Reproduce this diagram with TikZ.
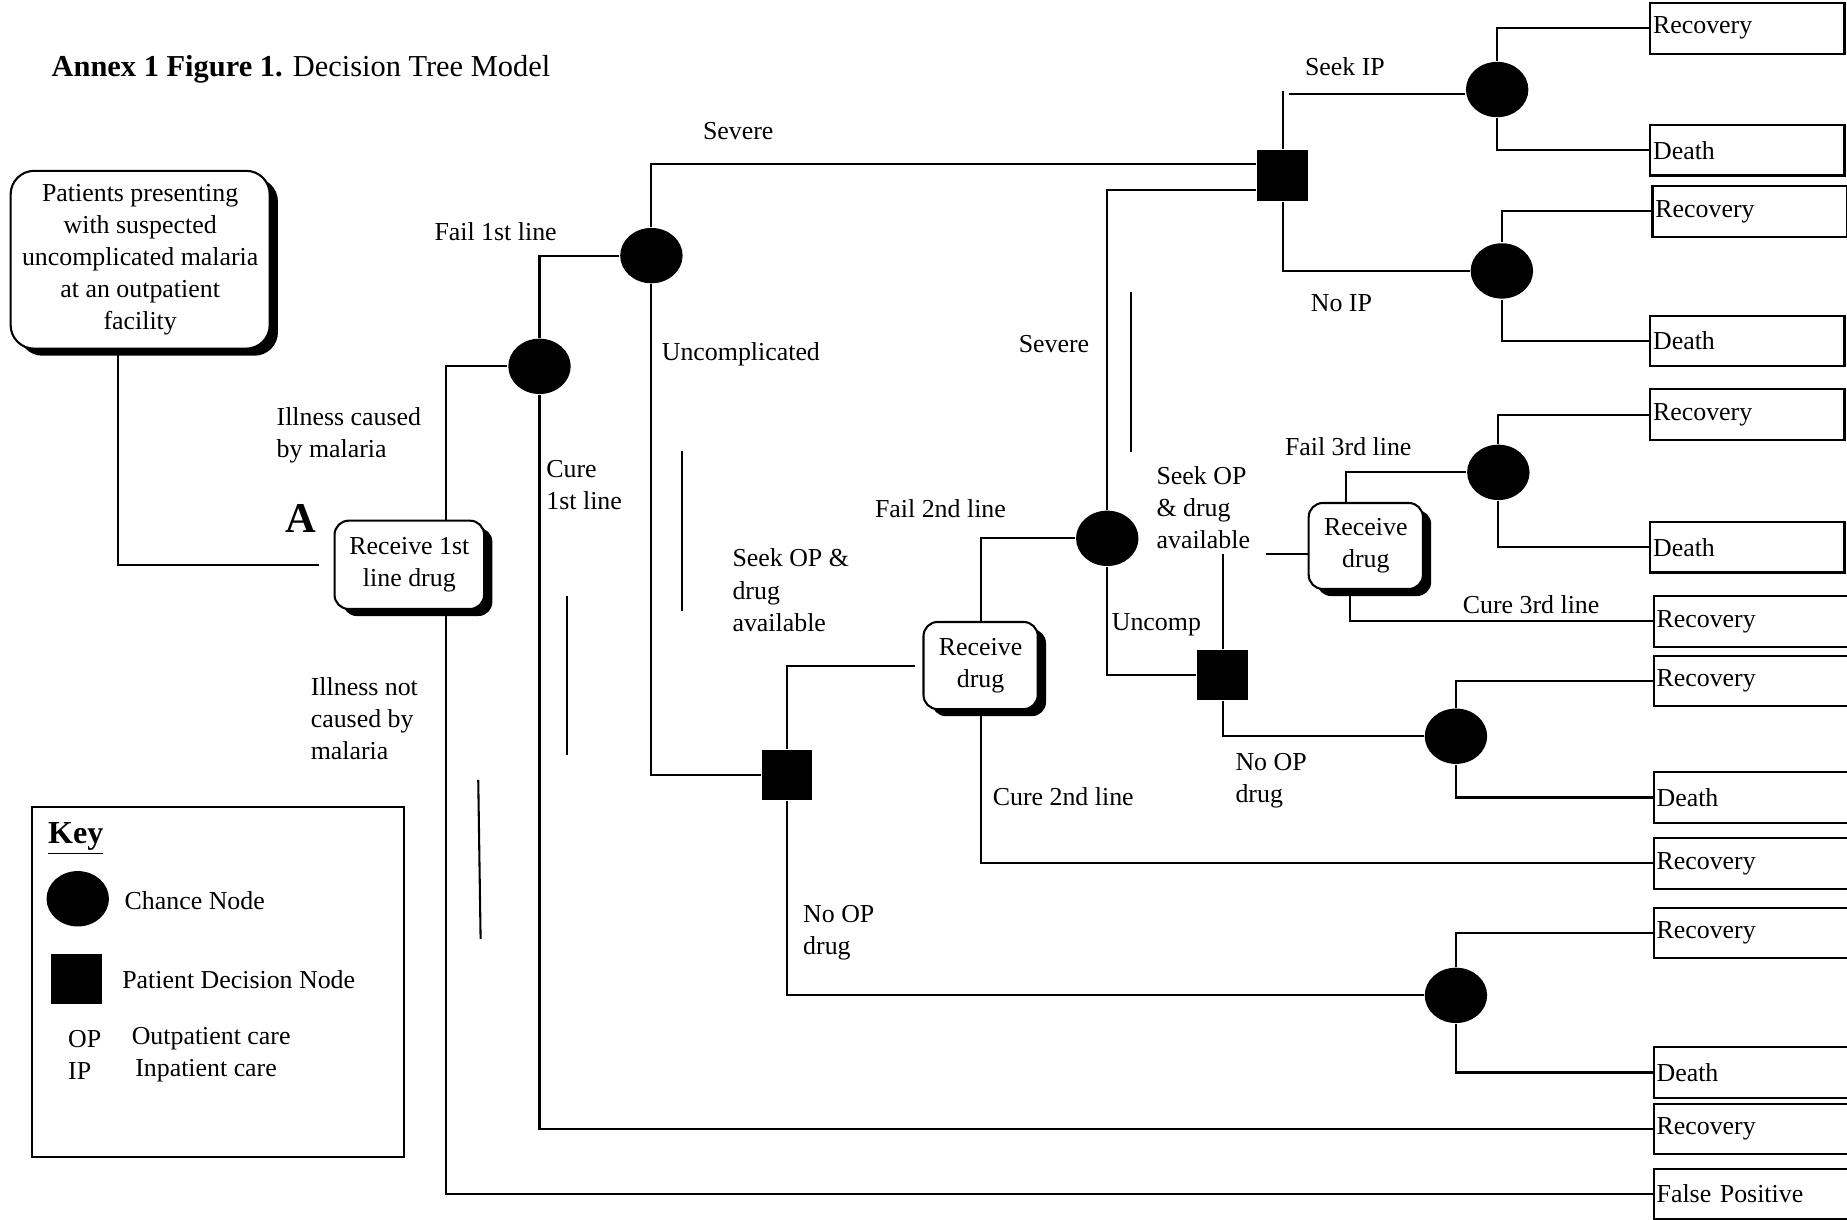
\documentclass[tikz,border=0pt]{standalone}
\usepackage{fontspec}
\setmainfont{Liberation Serif}
\usetikzlibrary{shapes.geometric}
\usetikzlibrary{shadows}

\tikzset{
  chance/.style={ellipse, fill=black, minimum width=1.06cm, minimum height=0.94cm, inner sep=0},
  choice/.style={rectangle, fill=black, minimum width=0.86cm, minimum height=0.86cm, inner sep=0},
  action/.style={draw, fill=white, rounded corners=0.24cm, align=center, inner sep=0,
    drop shadow={shadow xshift=0.14cm, shadow yshift=-0.12cm, fill=black, opacity=1}},
  outcome/.style={draw, anchor=west, text width=3.2cm, align=left, inner xsep=0.05cm, minimum height=0.86cm},
  lbl/.style={anchor=west, align=left, inner sep=0}
}

\begin{document}
\begin{tikzpicture}[x=0.02cm, y=-0.02cm, line width=1pt, font=\fontsize{12.5}{15.5}\selectfont]
\useasboundingbox (0,0) rectangle (1568,1035);

% title
\node[lbl, font=\fontsize{14.7}{17}\selectfont] (title) at (43,59) {\textbf{Annex 1 Figure 1.} Decision Tree Model};

% start and drug boxes
\node[action, rounded corners=0.4cm, minimum width=4.4cm, minimum height=3.02cm] (start) at (119,220.5)
  {Patients presenting\\with suspected\\uncomplicated malaria\\at an outpatient\\facility};
\node[action, minimum width=2.54cm, minimum height=1.5cm] (r1) at (347.5,479.5) {Receive 1st\\line drug};
\node[action, minimum width=1.94cm, minimum height=1.48cm] (r2) at (832.5,565) {Receive\\drug};
\node[action, minimum width=1.94cm, minimum height=1.46cm] (r3) at (1159.5,463.5) {Receive\\drug};
\node[font=\fontsize{20.5}{24}\selectfont\bfseries] (mark) at (255,440) {A};

% chance nodes
\node[chance] (c1) at (458,311) {};
\node[chance] (c2) at (553,217) {};
\node[chance] (c3) at (940,457) {};
\node[chance] (c4) at (1272,401) {};
\node[chance] (c5) at (1236,625) {};
\node[chance] (c6) at (1236,845) {};
\node[chance] (c7) at (1271,76) {};
\node[chance] (c8) at (1275,230) {};

% decision nodes
\node[choice] (d1) at (1089,149) {};
\node[choice] (d2) at (668,658) {};
\node[choice] (d3) at (1038,573) {};

% outcomes
\node[outcome] (o1) at (1400,24) {Recovery};
\node[outcome] (o2) at (1400,127.5) {Death};
\node[outcome] (o3) at (1402,179.5) {Recovery};
\node[outcome] (o4) at (1400,289.5) {Death};
\node[outcome] (o5) at (1400,352) {Recovery};
\node[outcome] (o6) at (1400,464.5) {Death};
\node[outcome] (o7) at (1403,527.5) {Recovery};
\node[outcome] (o8) at (1403,578) {Recovery};
\node[outcome] (o9) at (1403,677) {Death};
\node[outcome] (o10) at (1403,733) {Recovery};
\node[outcome] (o11) at (1403,792) {Recovery};
\node[outcome] (o12) at (1403,910.5) {Death};
\node[outcome] (o13) at (1403,958.5) {Recovery};
\node[outcome] (o14) at (1403,1013.5) {False Positive};

% branches
\draw[shorten >=0.24cm] ([xshift=-0.38cm]start.south) |- (r1.west);
\draw ([xshift=0.63cm]r1.north) |- (c1.west);
\draw ([xshift=0.63cm]r1.south) |- (o14.west);
\draw (c1.north) |- (c2.west);
\draw (c1.south) |- (o13.west);
\draw (c2.north) |- ([yshift=0.2cm]d1.west);
\draw (c2.south) |- (d2.west);
\draw[shorten >=0.12cm] (d2.north) |- (r2.west);
\draw (d2.south) |- (c6.west);
\draw (c6.north) |- (o11.west);
\draw (c6.south) |- (o12.west);
\draw (r2.north) |- (c3.west);
\draw (r2.south) |- (o10.west);
\draw (c3.north) |- ([yshift=-0.24cm]d1.west);
\draw (c3.south) |- (d3.west);
\coordinate (opgap) at (1038,470);
\coordinate (opjoin) at (1075,470);
\draw (d3.north) -- (opgap);
\draw (opjoin) -- (opjoin -| r3.west);
\draw (d3.south) |- (c5.west);
\draw (c5.north) |- (o8.west);
\draw (c5.south) |- (o9.west);
\draw ([xshift=-0.33cm]r3.north) |- (c4.west);
\draw ([xshift=-0.27cm]r3.south) |- (o7.west);
\draw (c4.north) |- (o5.west);
\draw (c4.south) |- (o6.west);
\coordinate (ipgap) at (1089,77);
\coordinate (ipjoin) at (1094,80);
\draw (d1.north) -- (ipgap);
\draw (ipjoin) -- (ipjoin -| c7.west);
\draw (d1.south) |- (c8.west);
\draw (c7.north) |- (o1.west);
\draw (c7.south) |- (o2.west);
\draw (c8.north) |- (o3.west);
\draw (c8.south) |- (o4.west);

% stray strokes
\draw (579,383) -- (579,519);
\draw (481,506) -- (481,641);
\draw (406,662) -- (408,797);
\draw (960,248) -- (960,384);

% branch labels
\node[lbl] (lsev) at (596,111) {Severe};
\node[lbl] (lfail1) at (368,197) {Fail 1st line};
\node[lbl] (lunc) at (561,301) {Uncomplicated};
\node[lbl] (lill) at (234,369.5) {Illness caused\\by malaria};
\node[lbl] (lcure1) at (463,411.5) {Cure\\1st line};
\node[lbl] (lnot) at (263,610) {Illness not\\caused by\\malaria};
\node[lbl] (lseek1) at (621,501) {Seek OP \&\\drug\\available};
\node[lbl] (lfail2) at (742,432) {Fail 2nd line};
\node[lbl] (lsev2) at (864,292) {Severe};
\node[lbl] (lseek2) at (981,431) {Seek OP\\\& drug\\available};
\node[lbl] (luncomp) at (943,530) {Uncomp};
\node[lbl] (lfail3) at (1090,379) {Fail 3rd line};
\node[lbl] (lcure3) at (1241,513) {Cure 3rd line};
\node[lbl] (lnoop2) at (1048,662.5) {No OP\\drug};
\node[lbl] (lcure2) at (842,676) {Cure 2nd line};
\node[lbl] (lnoop1) at (681,791.5) {No OP\\drug};
\node[lbl] (lseekip) at (1107,57) {Seek IP};
\node[lbl] (lnoip) at (1112,257) {No IP};

% key
\node[draw, minimum width=6.32cm, minimum height=5.94cm, inner sep=0] (key) at (185,833.5) {};
\node[lbl, font=\fontsize{15.5}{18}\selectfont\bfseries] (keyhead) at (40,712) {\underline{Key}};
\node[chance] (kc) at (66,763) {};
\node[lbl] (kctext) at (105,765) {Chance Node};
\node[choice] (kd) at (65,831) {};
\node[lbl] (kdtext) at (103,832) {Patient Decision Node};
\node[lbl] (kop) at (57,882) {OP};
\node[lbl] (koptext) at (111,882) {Outpatient care};
\node[lbl] (kip) at (57,909) {IP};
\node[lbl] (kiptext) at (114,909) {Inpatient care};

\end{tikzpicture}
\end{document}
